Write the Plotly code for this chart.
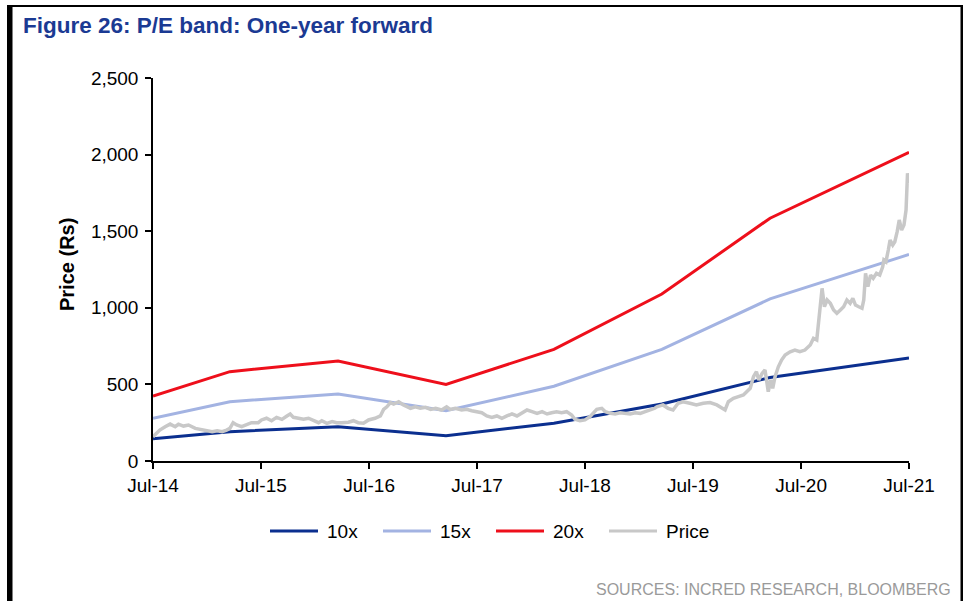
import plotly.graph_objects as go

# P/E band anchor dates and band values (Rs)
band_dates = ["2014-07-01", "2015-03-18", "2016-03-18", "2017-03-18",
              "2018-03-18", "2019-03-18", "2020-03-18", "2021-07-01"]
pe_10x = [145, 191, 224, 165, 246, 372, 545, 672]
pe_15x = [279, 387, 437, 328, 488, 729, 1058, 1348]
pe_20x = [424, 583, 653, 500, 729, 1090, 1585, 2015]

# Share price (Rs)
price_dates = [
    "2014-07-01", "2014-07-24", "2014-08-11", "2014-08-28", "2014-09-14", "2014-09-25",
    "2014-10-12", "2014-10-29", "2014-11-21", "2014-12-08", "2014-12-25", "2015-01-17",
    "2015-02-03", "2015-02-20", "2015-03-07", "2015-03-18", "2015-03-29", "2015-04-10",
    "2015-04-27", "2015-05-13", "2015-05-30", "2015-06-22", "2015-07-03", "2015-07-20",
    "2015-08-06", "2015-08-23", "2015-09-10", "2015-09-27", "2015-10-08", "2015-10-19",
    "2015-11-05", "2015-11-22", "2015-12-09", "2015-12-25", "2016-01-12", "2016-01-23",
    "2016-02-09", "2016-02-27", "2016-03-13", "2016-03-30", "2016-04-22", "2016-05-09",
    "2016-05-25", "2016-06-12", "2016-06-29", "2016-07-21", "2016-08-08", "2016-08-19",
    "2016-08-30", "2016-09-11", "2016-09-22", "2016-10-09", "2016-10-25", "2016-11-18",
    "2016-12-04", "2016-12-21", "2017-01-08", "2017-01-25", "2017-02-11", "2017-03-03",
    "2017-03-20", "2017-04-01", "2017-04-18", "2017-05-10", "2017-05-27", "2017-06-13",
    "2017-06-30", "2017-07-17", "2017-08-03", "2017-08-20", "2017-09-06", "2017-09-23",
    "2017-10-10", "2017-10-27", "2017-11-13", "2017-11-30", "2017-12-17", "2018-01-03",
    "2018-01-20", "2018-02-06", "2018-02-23", "2018-03-10", "2018-03-27", "2018-04-13",
    "2018-04-30", "2018-05-17", "2018-05-28", "2018-06-14", "2018-07-01", "2018-07-18",
    "2018-07-29", "2018-08-10", "2018-08-27", "2018-09-08", "2018-09-25", "2018-10-11",
    "2018-10-28", "2018-11-14", "2018-12-01", "2018-12-18", "2019-01-04", "2019-01-21",
    "2019-02-07", "2019-02-22", "2019-03-01", "2019-03-22", "2019-04-08", "2019-04-25",
    "2019-05-12", "2019-05-29", "2019-06-21", "2019-07-13", "2019-08-05", "2019-08-28",
    "2019-09-20", "2019-10-07", "2019-10-18", "2019-10-29", "2019-11-15", "2019-12-02",
    "2019-12-19", "2020-01-11", "2020-01-22", "2020-02-01", "2020-02-09", "2020-02-20",
    "2020-03-01", "2020-03-12", "2020-03-20", "2020-03-27", "2020-04-04", "2020-04-15",
    "2020-04-26", "2020-05-08", "2020-05-25", "2020-06-10", "2020-06-27", "2020-07-14",
    "2020-08-01", "2020-08-12", "2020-08-23", "2020-09-10", "2020-09-18", "2020-09-27",
    "2020-10-08", "2020-10-19", "2020-10-30", "2020-11-11", "2020-11-22", "2020-12-03",
    "2020-12-14", "2020-12-23", "2021-01-01", "2021-01-12", "2021-01-23", "2021-01-29",
    "2021-02-04", "2021-02-12", "2021-02-21", "2021-03-02", "2021-03-13", "2021-03-24",
    "2021-04-03", "2021-04-07", "2021-04-14", "2021-04-22", "2021-04-28", "2021-05-07",
    "2021-05-14", "2021-05-22", "2021-05-29", "2021-06-06", "2021-06-14", "2021-06-21",
    "2021-06-23", "2021-06-26", "2021-07-01", "2021-07-03",
]
price = [
    158, 202, 224, 241, 224, 240,
    228, 235, 213, 207, 198, 191,
    198, 191, 202, 213, 250, 235,
    224, 235, 250, 250, 268, 279,
    263, 285, 272, 294, 307, 285,
    279, 272, 279, 268, 250, 263,
    246, 257, 250, 250, 253, 263,
    250, 246, 268, 279, 294, 337,
    354, 381, 372, 387, 366, 344,
    354, 344, 350, 337, 344, 333,
    354, 337, 344, 333, 337, 328,
    322, 315, 294, 285, 294, 279,
    294, 307, 294, 311, 333, 322,
    311, 322, 307, 315, 322, 315,
    322, 300, 272, 263, 268, 289,
    311, 337, 344, 322, 311, 307,
    315, 311, 307, 315, 311, 322,
    333, 344, 354, 366, 344, 333,
    377, 387, 377, 366, 377, 381,
    366, 344, 333, 387, 409, 420,
    431, 474, 550, 583, 529, 572,
    594, 452, 529, 474, 550, 615,
    659, 692, 713, 724, 713, 724,
    757, 801, 790, 1127, 1007, 1051,
    1029, 986, 964, 986, 1007, 1051,
    1029, 1062, 1018, 1007, 997, 1051,
    1225, 1138, 1214, 1193, 1225, 1214,
    1268, 1312, 1301, 1377, 1442, 1410,
    1431, 1497, 1573, 1508, 1540, 1638,
    1790, 1878, 1834, 1813,
]

series_names = ["10x", "15x", "20x", "Price"]
series_colors = ["#0B2F8F", "#A3B3E2", "#EE0F1B", "#C8C8C8"]

FONT = "Liberation Sans, Arial, sans-serif"

fig = go.Figure()
fig.add_trace(go.Scatter(x=band_dates, y=pe_10x, mode="lines", name=series_names[0],
                         line=dict(color=series_colors[0], width=3)))
fig.add_trace(go.Scatter(x=band_dates, y=pe_15x, mode="lines", name=series_names[1],
                         line=dict(color=series_colors[1], width=3)))
fig.add_trace(go.Scatter(x=band_dates, y=pe_20x, mode="lines", name=series_names[2],
                         line=dict(color=series_colors[2], width=3)))
fig.add_trace(go.Scatter(x=price_dates, y=price, mode="lines", name=series_names[3],
                         line=dict(color=series_colors[3], width=3.5)))

# plot area in pixels: x 153..909, y 78..461
PX0, PX1, PY0, PY1 = 153, 909, 78, 461


def px(x):
    return (x - PX0) / (PX1 - PX0)


def py(y):
    return (PY1 - y) / (PY1 - PY0)


shapes = []
annotations = []

# black frame: heavy left rule, thin top and right rules
shapes.append(dict(type="rect", xref="paper", yref="paper", layer="above",
                   x0=px(7), x1=px(12.5), y0=py(605), y1=py(5),
                   fillcolor="black", line=dict(width=0)))
shapes.append(dict(type="rect", xref="paper", yref="paper", layer="above",
                   x0=px(7), x1=px(963), y0=py(7), y1=py(5),
                   fillcolor="black", line=dict(width=0)))
shapes.append(dict(type="rect", xref="paper", yref="paper", layer="above",
                   x0=px(960.5), x1=px(963), y0=py(605), y1=py(5),
                   fillcolor="black", line=dict(width=0)))

# legend row
legend_x = [270, 383, 496, 609]
for name, color, lx in zip(series_names, series_colors, legend_x):
    shapes.append(dict(type="line", xref="paper", yref="paper",
                       x0=px(lx), x1=px(lx + 48), y0=py(531), y1=py(531),
                       line=dict(color=color, width=3)))
    annotations.append(dict(xref="paper", yref="paper", x=px(lx + 55), y=py(531),
                            text=name, showarrow=False, xanchor="left", yanchor="middle",
                            font=dict(family=FONT, size=19, color="black")))

# title, axis title, source note
annotations.append(dict(xref="paper", yref="paper", x=px(21), y=py(25),
                        text="<b>Figure 26: P/E band: One-year forward</b>",
                        showarrow=False, xanchor="left", yanchor="middle",
                        font=dict(family=FONT, size=22.5, color="#1B3A93")))
annotations.append(dict(xref="paper", yref="paper", x=px(67), y=py(265),
                        text="<b>Price (Rs)</b>", textangle=-90,
                        showarrow=False, xanchor="center", yanchor="middle",
                        font=dict(family=FONT, size=20, color="black")))
annotations.append(dict(xref="paper", yref="paper", x=px(953), y=py(589),
                        text="SOURCES: INCRED RESEARCH, BLOOMBERG",
                        showarrow=False, xanchor="right", yanchor="middle",
                        font=dict(family=FONT, size=16, color="#9A9A9A")))

fig.update_layout(
    width=968, height=601,
    margin=dict(l=PX0, r=968 - PX1, t=PY0, b=601 - PY1, pad=0),
    paper_bgcolor="white", plot_bgcolor="white",
    showlegend=False,
    font=dict(family=FONT, size=19, color="black"),
    shapes=shapes, annotations=annotations,
)
fig.update_xaxes(
    type="date", range=["2014-07-01", "2021-07-01"],
    tick0="2014-07-01", dtick="M12", tickformat="%b-%y",
    showgrid=False, zeroline=False,
    showline=True, linecolor="black", linewidth=1.5,
    ticks="outside", ticklen=6, tickwidth=1.5, tickcolor="black",
    tickfont=dict(family=FONT, size=19, color="black"),
)
fig.update_yaxes(
    range=[0, 2500], tick0=0, dtick=500, tickformat=",",
    showgrid=False, zeroline=False,
    showline=True, linecolor="black", linewidth=1.5,
    ticks="outside", ticklen=6, tickwidth=1.5, tickcolor="black",
    ticklabelstandoff=3,
    tickfont=dict(family=FONT, size=19, color="black"),
)

fig.write_html("out.html")
